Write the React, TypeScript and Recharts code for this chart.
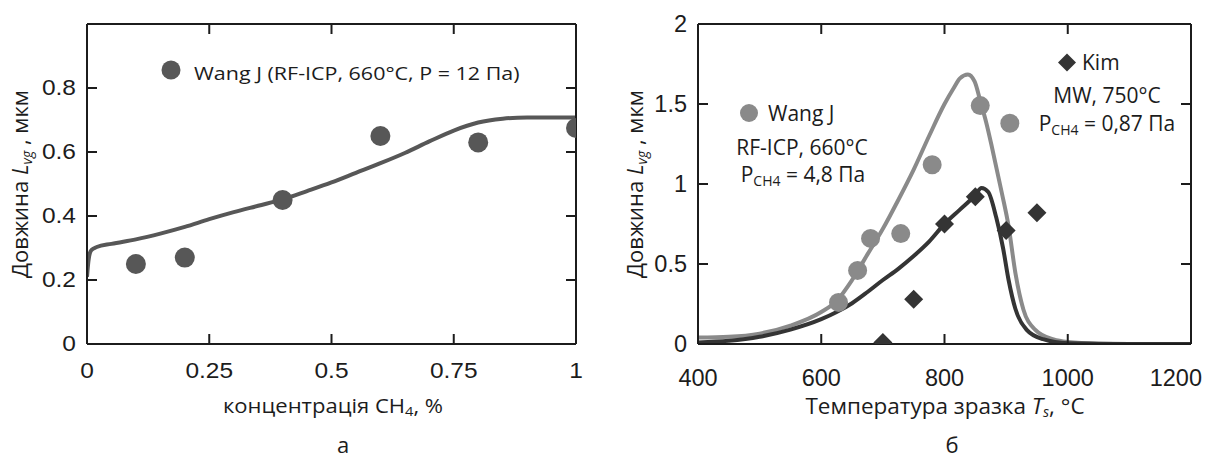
import React from 'react';
import { ComposedChart, Line, Scatter, XAxis, YAxis } from 'recharts';

// ---------- panel а : length vs CH4 concentration ----------
const concX = [0.1, 0.2, 0.4, 0.6, 0.8, 1.0];
const concL = [0.25, 0.27, 0.45, 0.65, 0.63, 0.675];
const concFitX = [0, 0.003, 0.006, 0.01, 0.02, 0.05, 0.1, 0.15, 0.2, 0.25, 0.3, 0.35, 0.4, 0.45, 0.5, 0.55, 0.6, 0.65, 0.7, 0.75, 0.8, 0.85, 0.9, 0.95, 1.0];
const concFitL = [0.21, 0.26, 0.285, 0.295, 0.303, 0.313, 0.327, 0.345, 0.366, 0.39, 0.412, 0.432, 0.452, 0.478, 0.505, 0.535, 0.565, 0.597, 0.633, 0.667, 0.692, 0.704, 0.708, 0.708, 0.708];
const concTicksX = [0, 0.25, 0.5, 0.75, 1];
const concTicksY = [0, 0.2, 0.4, 0.6, 0.8];

// ---------- panel б : length vs sample temperature ----------
const wangT = [628, 659, 680, 729, 780, 858, 906];
const wangL = [0.26, 0.46, 0.66, 0.69, 1.12, 1.49, 1.38];
const kimT = [700, 750, 800, 850, 900, 950];
const kimL = [0.01, 0.28, 0.75, 0.92, 0.71, 0.82];
const wangFitT = [400, 450, 500, 550, 600, 625, 650, 675, 700, 725, 750, 775, 800, 815, 825, 838, 849, 858, 868, 877, 893, 904, 915, 928, 947, 977, 1000, 1050, 1100, 1200];
const wangFitL = [0.04, 0.045, 0.065, 0.115, 0.2, 0.27, 0.4, 0.56, 0.72, 0.9, 1.09, 1.3, 1.5, 1.6, 1.66, 1.685, 1.64, 1.52, 1.38, 1.23, 0.945, 0.736, 0.445, 0.216, 0.09, 0.028, 0.012, 0.002, 0, 0];
const kimFitT = [400, 450, 500, 550, 600, 625, 650, 675, 700, 725, 750, 775, 800, 825, 850, 860, 871, 884, 895, 904, 915, 933, 960, 1000, 1100, 1200];
const kimFitL = [0.01, 0.02, 0.045, 0.09, 0.155, 0.2, 0.255, 0.325, 0.4, 0.47, 0.55, 0.64, 0.75, 0.84, 0.93, 0.975, 0.95, 0.79, 0.6, 0.4, 0.22, 0.09, 0.03, 0.005, 0, 0];
const tempTicksX = [400, 600, 800, 1000, 1200];
const tempTicksY = [0, 0.5, 1, 1.5, 2];

const zip = (xs: number[], ys: number[]) => xs.map((x, i) => ({ x, y: ys[i] }));

const INK = '#1c1c1c';
const SANS = 'Liberation Sans, Arial, sans-serif';
const TEXT = '"Open Sans", "Noto Sans", sans-serif';

type TickOpts = {
  fs: number;
  sx: number;
  gap: number;
  len: number;
  edge: number[];
  hideLabel?: boolean;
  endValue?: number;
  endShift?: number;
};

const tick = (side: 'bottom' | 'top' | 'left' | 'right', o: TickOpts) => (p: any) => {
  const { x, y, payload } = p;
  const v: number = payload.value;
  const onEdge = o.edge.includes(v);
  let line: React.ReactNode = null;
  if (!onEdge) {
    if (side === 'bottom') line = <line x1={x} x2={x} y1={y} y2={y - o.len} stroke={INK} strokeWidth={2} />;
    if (side === 'top') line = <line x1={x} x2={x} y1={y} y2={y + o.len} stroke={INK} strokeWidth={2} />;
    if (side === 'left') line = <line x1={x} x2={x + o.len} y1={y} y2={y} stroke={INK} strokeWidth={2} />;
    if (side === 'right') line = <line x1={x} x2={x - o.len} y1={y} y2={y} stroke={INK} strokeWidth={2} />;
  }
  let label: React.ReactNode = null;
  if (!o.hideLabel) {
    if (side === 'bottom') {
      const isEnd = o.endValue !== undefined && v === o.endValue;
      const tx = isEnd ? x + (o.endShift || 0) : x;
      label = (
        <text transform={`translate(${tx},${y + o.gap}) scale(${o.sx},1)`} textAnchor={isEnd ? 'end' : 'middle'} dominantBaseline="central" fontFamily={SANS} fontSize={o.fs} fill={INK}>
          {String(v)}
        </text>
      );
    }
    if (side === 'left') {
      label = (
        <text transform={`translate(${x - o.gap},${y}) scale(${o.sx},1)`} textAnchor="end" dominantBaseline="central" fontFamily={SANS} fontSize={o.fs} fill={INK}>
          {String(v)}
        </text>
      );
    }
  }
  return (
    <g>
      {line}
      {label}
    </g>
  );
};

const axisLine = { stroke: INK, strokeWidth: 2 };

const Dot = (color: string, r: number) => (p: any) => <circle cx={p.cx} cy={p.cy} r={r} fill={color} />;
const Diamond = (color: string, h: number) => (p: any) => (
  <polygon points={`${p.cx},${p.cy - h} ${p.cx + h},${p.cy} ${p.cx},${p.cy + h} ${p.cx - h},${p.cy}`} fill={color} />
);

const LEFT_GRAY = '#575757';
const WANG_GRAY = '#8a8a8a';
const KIM_DARK = '#343434';

function PanelA() {
  const sx = 1.14;
  return (
    <ComposedChart width={1207} height={461} margin={{ top: 23, left: 86, right: 630, bottom: 116 }}>
      <XAxis dataKey="x" type="number" domain={[0, 1]} ticks={concTicksX} interval={0} allowDataOverflow height={1} tickSize={0} tickMargin={0} tickLine={false} axisLine={axisLine} tick={tick('bottom', { fs: 21.5, sx, gap: 26.5, len: 10, edge: [0, 1] })} />
      <XAxis xAxisId="top" orientation="top" dataKey="x" type="number" domain={[0, 1]} ticks={concTicksX} interval={0} allowDataOverflow height={1} tickSize={0} tickMargin={0} tickLine={false} axisLine={axisLine} tick={tick('top', { fs: 21, sx, gap: 0, len: 10, edge: [0, 1], hideLabel: true })} />
      <YAxis type="number" domain={[0, 1]} ticks={concTicksY} interval={0} allowDataOverflow width={1} tickSize={0} tickMargin={0} tickLine={false} axisLine={axisLine} tick={tick('left', { fs: 21.5, sx, gap: 11, len: 10, edge: [0] })} />
      <YAxis yAxisId="right" orientation="right" type="number" domain={[0, 1]} ticks={concTicksY} interval={0} allowDataOverflow width={1} tickSize={0} tickMargin={0} tickLine={false} axisLine={axisLine} tick={tick('right', { fs: 21, sx, gap: 0, len: 10, edge: [0], hideLabel: true })} />
      <Line data={zip(concFitX, concFitL)} dataKey="y" type="monotone" stroke={LEFT_GRAY} strokeWidth={4} dot={false} isAnimationActive={false} />
      <Scatter data={zip(concX, concL)} dataKey="y" shape={Dot(LEFT_GRAY, 10)} isAnimationActive={false} />
    </ComposedChart>
  );
}

function PanelB() {
  return (
    <ComposedChart width={1207} height={461} margin={{ top: 23, left: 697, right: 15, bottom: 116 }}>
      <XAxis dataKey="x" type="number" domain={[400, 1200]} ticks={tempTicksX} interval={0} allowDataOverflow height={1} tickSize={0} tickMargin={0} tickLine={false} axisLine={axisLine} tick={tick('bottom', { fs: 23.5, sx: 1, gap: 33.5, len: 10, edge: [400, 1200], endValue: 1200, endShift: 11 })} />
      <XAxis xAxisId="top" orientation="top" dataKey="x" type="number" domain={[400, 1200]} ticks={tempTicksX} interval={0} allowDataOverflow height={1} tickSize={0} tickMargin={0} tickLine={false} axisLine={axisLine} tick={tick('top', { fs: 23.5, sx: 1, gap: 0, len: 10, edge: [400, 1200], hideLabel: true })} />
      <YAxis type="number" domain={[0, 2]} ticks={tempTicksY} interval={0} allowDataOverflow width={1} tickSize={0} tickMargin={0} tickLine={false} axisLine={axisLine} tick={tick('left', { fs: 23.5, sx: 1, gap: 11, len: 10, edge: [0, 2] })} />
      <YAxis yAxisId="right" orientation="right" type="number" domain={[0, 2]} ticks={tempTicksY} interval={0} allowDataOverflow width={1} tickSize={0} tickMargin={0} tickLine={false} axisLine={axisLine} tick={tick('right', { fs: 23.5, sx: 1, gap: 0, len: 10, edge: [0, 2], hideLabel: true })} />
      <Line data={zip(wangFitT, wangFitL)} dataKey="y" type="monotone" stroke={WANG_GRAY} strokeWidth={4} dot={false} isAnimationActive={false} />
      <Line data={zip(kimFitT, kimFitL)} dataKey="y" type="monotone" stroke={KIM_DARK} strokeWidth={4} dot={false} isAnimationActive={false} />
      <Scatter data={zip(wangT, wangL)} dataKey="y" shape={Dot(WANG_GRAY, 9.5)} isAnimationActive={false} />
      <Scatter data={zip(kimT, kimL)} dataKey="y" shape={Diamond(KIM_DARK, 9.5)} isAnimationActive={false} />
    </ComposedChart>
  );
}

function YTitle({ x }: { x: number }) {
  return (
    <text transform={`translate(${x},184) rotate(-90)`} textAnchor="middle" fontFamily={TEXT} fontSize={22} fill={INK}>
      Довжина <tspan fontStyle="italic">L</tspan>
      <tspan fontStyle="italic" fontSize={14} dy={4}>vg</tspan>
      <tspan dy={-4}> , мкм</tspan>
    </text>
  );
}

function Annotations() {
  const sxA = 1.13;
  return (
    <svg width={1207} height={461} style={{ position: 'absolute', left: 0, top: 0, pointerEvents: 'none' }}>
      {/* panel а */}
      <circle cx={171} cy={70} r={9.5} fill={LEFT_GRAY} />
      <text transform={`translate(194,80) scale(${sxA},1)`} fontFamily={TEXT} fontSize={19} fill={INK}>
        Wang J (RF-ICP, 660°C, P = 12 Па)
      </text>
      <YTitle x={28} />
      <text transform={`translate(333,413) scale(${sxA},1)`} textAnchor="middle" fontFamily={TEXT} fontSize={19.5} fill={INK}>
        концентрація CH<tspan fontSize={13} dy={3}>4</tspan>
        <tspan dy={-3}>, %</tspan>
      </text>
      <text x={343} y={453} textAnchor="middle" fontFamily={TEXT} fontSize={22} fill={INK}>
        а
      </text>

      {/* panel б */}
      <YTitle x={643} />
      <text x={945} y={414} textAnchor="middle" fontFamily={TEXT} fontSize={22.5} fill={INK}>
        Температура зразка <tspan fontStyle="italic">T</tspan>
        <tspan fontStyle="italic" fontSize={14} dy={3}>s</tspan>
        <tspan dy={-3}>, °C</tspan>
      </text>
      <text x={952} y={453} textAnchor="middle" fontFamily={TEXT} fontSize={22} fill={INK}>
        б
      </text>

      <circle cx={749} cy={113} r={9} fill={WANG_GRAY} />
      <text x={768} y={121} fontFamily={TEXT} fontSize={21} fill={INK}>
        Wang J
      </text>
      <text x={802} y={155} textAnchor="middle" fontFamily={TEXT} fontSize={21} fill={INK}>
        RF-ICP, 660°C
      </text>
      <text x={803} y={182} textAnchor="middle" fontFamily={TEXT} fontSize={21} fill={INK}>
        P<tspan fontSize={14} dy={4}>CH4</tspan>
        <tspan dy={-4}> = 4,8 Па</tspan>
      </text>

      <polygon points="1067,53.5 1076,62.5 1067,71.5 1058,62.5" fill={KIM_DARK} />
      <text x={1082} y={70} fontFamily={TEXT} fontSize={21} fill={INK}>
        Kim
      </text>
      <text x={1107} y={103} textAnchor="middle" fontFamily={TEXT} fontSize={21} fill={INK}>
        MW, 750°C
      </text>
      <text x={1107} y={131} textAnchor="middle" fontFamily={TEXT} fontSize={21} fill={INK}>
        P<tspan fontSize={14} dy={4}>CH4</tspan>
        <tspan dy={-4}> = 0,87 Па</tspan>
      </text>
    </svg>
  );
}

export default function App() {
  return (
    <div style={{ position: 'absolute', left: 0, top: 0, width: 1207, height: 461, background: '#fff', overflow: 'hidden' }}>
      <div style={{ position: 'absolute', left: 0, top: 0 }}>
        <PanelA />
      </div>
      <div style={{ position: 'absolute', left: 0, top: 0 }}>
        <PanelB />
      </div>
      <Annotations />
    </div>
  );
}
